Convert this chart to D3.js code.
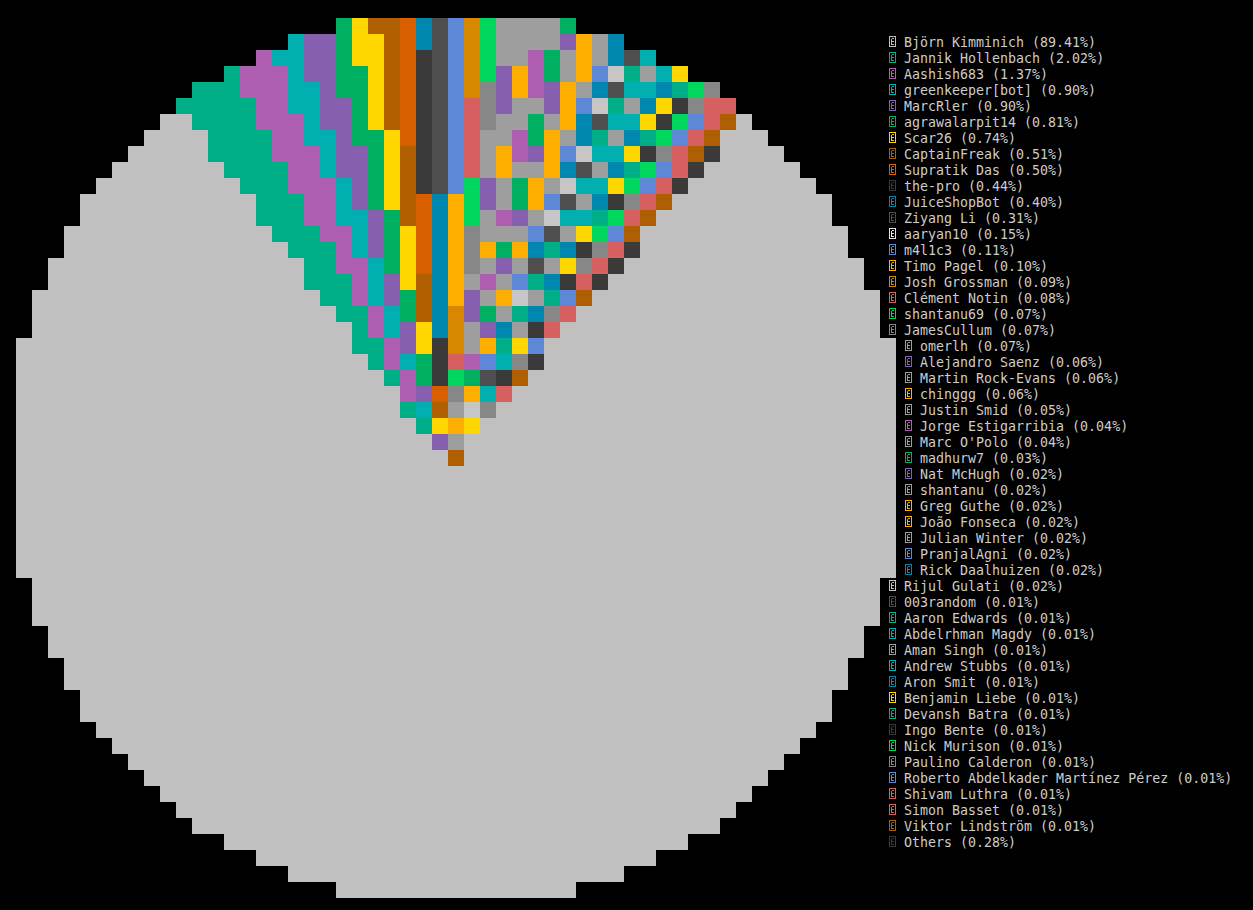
<!DOCTYPE html>
<html><head><meta charset="utf-8">
<script src="https://cdn.jsdelivr.net/npm/d3@7"></script>
<style>html,body{margin:0;padding:0;background:#000;}svg{display:block;}</style>
</head><body>
<svg id="chart" width="1253" height="910"></svg>
<script>
// ---- data ----
const names = ["Björn Kimminich","Jannik Hollenbach","Aashish683","greenkeeper[bot]","MarcRler","agrawalarpit14","Scar26","CaptainFreak","Supratik Das","the-pro","JuiceShopBot","Ziyang Li","aaryan10","m4l1c3","Timo Pagel","Josh Grossman","Clément Notin","shantanu69","JamesCullum","omerlh","Alejandro Saenz","Martin Rock-Evans","chinggg","Justin Smid","Jorge Estigarribia","Marc O'Polo","madhurw7","Nat McHugh","shantanu","Greg Guthe","João Fonseca","Julian Winter","PranjalAgni","Rick Daalhuizen","Rijul Gulati","003random","Aaron Edwards","Abdelrhman Magdy","Aman Singh","Andrew Stubbs","Aron Smit","Benjamin Liebe","Devansh Batra","Ingo Bente","Nick Murison","Paulino Calderon","Roberto Abdelkader Martínez Pérez","Shivam Luthra","Simon Basset","Viktor Lindström","Others"];
const percents = [89.41,2.02,1.37,0.90,0.90,0.81,0.74,0.51,0.50,0.44,0.40,0.31,0.15,0.11,0.10,0.09,0.08,0.07,0.07,0.07,0.06,0.06,0.06,0.05,0.04,0.04,0.03,0.02,0.02,0.02,0.02,0.02,0.02,0.02,0.02,0.01,0.01,0.01,0.01,0.01,0.01,0.01,0.01,0.01,0.01,0.01,0.01,0.01,0.01,0.01,0.28];
const colors = ["#c0c0c0","#00af87","#af5faf","#00afaf","#875faf","#00af5f","#ffd700","#af5f00","#d75f00","#3a3a3a","#0087af","#4e4e4e","#e4e4e4","#5f87d7","#ffaf00","#d78700","#d75f5f","#00d75f","#878787","#9e9e9e","#875faf","#9e9e9e","#ffaf00","#9e9e9e","#af5faf","#9e9e9e","#00af5f","#875faf","#9e9e9e","#ffaf00","#ffaf00","#9e9e9e","#5f87d7","#0087af","#c6c6c6","#4e4e4e","#00af87","#00afaf","#9e9e9e","#00afaf","#0087af","#ffd700","#00af87","#3a3a3a","#00d75f","#878787","#5f87d7","#d75f5f","#d75f5f","#af5f00","#3a3a3a"];

// ---- layout constants ----
const W = 1253, H = 910;
const N = 55;              // grid cells per side
const CELL = 16;
const MID = 27;            // centre cell index
const R2 = 789;            // squared radius in cells
const degPerPct = 4.1;     // angular scale for the small slices
const minPct = 0.254;      // minimum share shown per slice
const startDeg = -36.9;    // where the first small slice starts
const ox = 0.5, oy = 0.62; // pie centre offset inside the centre cell

const svg = d3.select("#chart");
svg.append("rect").attr("width", W).attr("height", H).attr("fill", "#000");

const data = names.map((n, i) => ({name: n, pct: percents[i], color: colors[i], i}));
const main = data[0];
const rest = data.slice(1);

const x = d3.scaleLinear().domain([0, N]).range([16, 16 + N * CELL]);
const y = d3.scaleLinear().domain([0, N]).range([18, 18 + N * CELL]);
const deg = d3.scaleLinear().domain([0, 180]).range([0, Math.PI]);

const weight = d => Math.max(d.pct, minPct);
const span = deg(degPerPct * d3.sum(rest, weight));
const arcs = d3.pie().sort(null).value(weight)
  .startAngle(deg(startDeg)).endAngle(deg(startDeg) + span)(rest);
const bounds = arcs.map(a => a.endAngle);

const cells = [];
for (let r = 0; r < N; r++) {
  for (let c = 0; c < N; c++) {
    const dx = c - MID, dy = r - MID;
    if (dx * dx + dy * dy > R2) continue;
    const h = dx + ox, v = -dy + oy;
    const th = Math.atan2(h, v);
    let d = main;
    if (th >= arcs[0].startAngle && th < arcs[arcs.length - 1].endAngle) {
      const k = d3.bisectRight(bounds, th);
      d = arcs[Math.min(k, arcs.length - 1)].data;
    }
    cells.push({r, c, d});
  }
}

svg.append("g").selectAll("rect").data(cells).join("rect")
  .attr("x", d => x(d.c)).attr("y", d => y(d.r))
  .attr("width", CELL).attr("height", CELL)
  .attr("fill", d => d.d.color)
  .attr("shape-rendering", "crispEdges");

// ---- legend ----
const fmt = d3.format(".2f");
const leg = svg.append("g");
data.forEach((d, i) => {
  const row = i + 1;
  const yc = y(row) + CELL / 2;
  const dyr = row - MID;
  const covered = (N - 1 - MID) ** 2 + dyr * dyr <= R2;
  const ix = covered ? 904 : 888;
  const g = leg.append("g").attr("transform", `translate(${ix},${yc})`);
  g.append("rect").attr("x", 1.5).attr("y", -5.5).attr("width", 6).attr("height", 10)
    .attr("fill", "none").attr("stroke", d.color).attr("stroke-width", 1)
    .attr("shape-rendering", "crispEdges");
  g.append("path").attr("d", "M3.5,-3.5h2.5M3.5,-3.5v6M3.5,-0.5h2M3.5,2.5h2.5")
    .attr("fill", "none").attr("stroke", d.color).attr("stroke-width", 1)
    .attr("shape-rendering", "crispEdges");
  g.append("text").attr("x", 16).attr("y", 4.6)
    .attr("font-family", "'DejaVu Sans Mono', 'Liberation Mono', monospace")
    .attr("font-size", "13.3px").attr("fill", "#cccccc")
    .text(`${d.name} (${fmt(d.pct)}%)`);
});
</script>
</body></html>
